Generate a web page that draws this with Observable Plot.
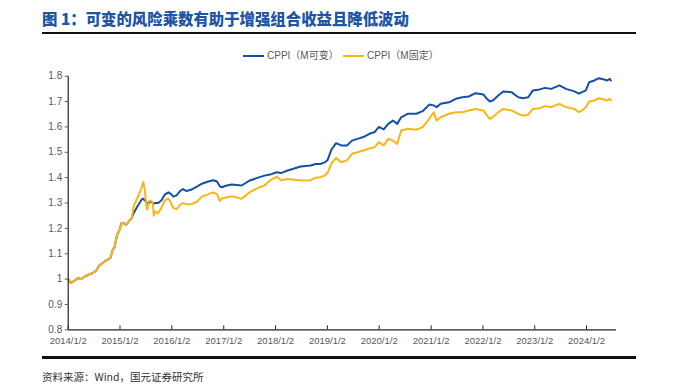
<!DOCTYPE html>
<html>
<head>
<meta charset="utf-8">
<script src="https://cdn.jsdelivr.net/npm/d3@7"></script>
<script src="https://cdn.jsdelivr.net/npm/@observablehq/plot@0.6"></script>
<style>
  html, body { margin: 0; padding: 0; background: #fff; }
  #wrap { position: relative; width: 700px; height: 390px; overflow: hidden; background: #fff;
          font-family: "Liberation Sans", Arial, "Noto Sans CJK SC", sans-serif; }
  .title { position: absolute; left: 42px; top: 7px; font-family: "Noto Sans CJK SC", sans-serif;
           font-weight: 900; font-size: 15.4px; line-height: 22px; color: #2055a4; white-space: nowrap; }
  .hr { position: absolute; left: 42px; width: 594px; background: #111; }
  .legend { position: absolute; top: 49px; left: 0; height: 14px; font-size: 10px; color: #595959; }
  .sw { position: absolute; top: 6px; width: 21px; height: 2px; }
  .lt { position: absolute; top: 0; white-space: nowrap; line-height: 14px; }
  #chart { position: absolute; left: 0; top: 62px; }
  .source { position: absolute; left: 42px; top: 369px; font-size: 10.5px; line-height: 16px; color: #333;
            font-family: "Noto Sans CJK SC", sans-serif; white-space: nowrap; }
</style>
</head>
<body>
<div id="wrap">
  <div class="title">图 1：可变的风险乘数有助于增强组合收益且降低波动</div>
  <div class="hr" style="top:32px;height:2px;"></div>
  <div class="legend">
    <div class="sw" id="sw1" style="left:243px;"></div><div class="lt" id="lt1" style="left:267px;"></div>
    <div class="sw" id="sw2" style="left:343px;"></div><div class="lt" id="lt2" style="left:367px;"></div>
  </div>
  <div id="chart"></div>
  <div class="hr" style="top:356px;height:2.5px;"></div>
  <div class="source">资料来源：Wind，国元证券研究所</div>
</div>
<script>
// ---- data ----
const seriesNames = ["CPPI（M可变）", "CPPI（M固定）"];
const seriesColors = ["#1650a6", "#fbb614"];

const dates = [
  "2014-01-02","2014-01-20","2014-02-20","2014-03-10","2014-04-01","2014-05-05","2014-06-20","2014-07-15",
  "2014-08-08","2014-09-25","2014-10-27","2014-11-10","2014-11-25","2014-12-12","2014-12-29","2015-01-12",
  "2015-01-30","2015-02-13","2015-03-10","2015-03-25","2015-04-08","2015-05-05","2015-06-03","2015-06-15",
  "2015-06-25","2015-07-06","2015-07-13","2015-07-24","2015-08-07","2015-08-21","2015-08-28","2015-09-09",
  "2015-09-28","2015-10-20","2015-11-13","2015-12-09","2015-12-28","2016-01-12","2016-02-05","2016-02-29",
  "2016-03-20","2016-04-15","2016-05-15","2016-06-27","2016-08-01","2016-09-15","2016-10-19","2016-11-15",
  "2016-12-05","2016-12-20","2017-01-15","2017-02-28","2017-05-08","2017-07-05","2017-09-01","2017-10-16",
  "2017-11-24","2018-01-10","2018-02-09","2018-03-28","2018-06-28","2018-09-06","2018-10-12","2018-11-14",
  "2018-12-14","2019-01-04","2019-01-30","2019-03-04","2019-04-10","2019-05-20","2019-06-25","2019-08-01",
  "2019-09-12","2019-10-25","2019-12-02","2019-12-31","2020-02-03","2020-03-06","2020-04-08","2020-05-08",
  "2020-06-05","2020-07-23","2020-09-20","2020-11-03","2020-12-20","2021-01-20","2021-02-10","2021-03-10",
  "2021-05-08","2021-06-25","2021-08-10","2021-09-24","2021-11-10","2022-01-05","2022-01-30","2022-02-20",
  "2022-03-15","2022-04-20","2022-05-25","2022-07-22","2022-09-08","2022-10-12","2022-11-17","2022-12-20",
  "2023-02-06","2023-03-15","2023-04-28","2023-06-25","2023-08-10","2023-10-08","2023-11-10","2023-12-01",
  "2023-12-28","2024-01-20","2024-02-25","2024-03-28","2024-05-05","2024-05-27","2024-06-13","2024-06-21"
];

const cppiVariable = [
  1.000,0.985,0.995,1.004,1.000,1.012,1.023,1.031,
  1.053,1.073,1.084,1.113,1.127,1.173,1.193,1.220,
  1.220,1.213,1.231,1.240,1.260,1.287,1.313,1.317,
  1.310,1.305,1.300,1.300,1.305,1.300,1.298,1.300,
  1.300,1.310,1.333,1.342,1.335,1.325,1.330,1.347,
  1.355,1.347,1.352,1.365,1.376,1.385,1.390,1.385,
  1.366,1.362,1.368,1.373,1.369,1.389,1.400,1.408,
  1.412,1.421,1.418,1.428,1.444,1.448,1.454,1.454,
  1.460,1.470,1.510,1.536,1.527,1.527,1.546,1.553,
  1.560,1.573,1.580,1.600,1.590,1.612,1.625,1.612,
  1.638,1.652,1.652,1.662,1.688,1.685,1.678,1.691,
  1.697,1.711,1.717,1.720,1.733,1.728,1.711,1.700,
  1.705,1.724,1.740,1.737,1.717,1.713,1.717,1.744,
  1.748,1.754,1.750,1.764,1.750,1.740,1.731,1.737,
  1.744,1.776,1.783,1.792,1.787,1.783,1.790,1.783
];

const cppiFixed = [
  1.000,0.985,0.995,1.004,1.000,1.012,1.023,1.031,
  1.053,1.073,1.084,1.113,1.127,1.173,1.193,1.220,
  1.220,1.213,1.231,1.240,1.287,1.320,1.360,1.383,
  1.353,1.293,1.273,1.307,1.310,1.300,1.250,1.267,
  1.260,1.280,1.310,1.318,1.300,1.280,1.276,1.293,
  1.300,1.295,1.295,1.305,1.325,1.335,1.342,1.335,
  1.308,1.318,1.322,1.327,1.317,1.343,1.360,1.369,
  1.389,1.404,1.390,1.395,1.389,1.390,1.400,1.402,
  1.408,1.420,1.455,1.478,1.461,1.468,1.494,1.500,
  1.507,1.515,1.520,1.540,1.527,1.553,1.546,1.533,
  1.586,1.593,1.589,1.599,1.632,1.658,1.625,1.638,
  1.652,1.658,1.658,1.665,1.671,1.665,1.645,1.632,
  1.640,1.658,1.671,1.665,1.651,1.645,1.648,1.671,
  1.674,1.682,1.678,1.691,1.678,1.671,1.658,1.665,
  1.678,1.700,1.704,1.713,1.708,1.704,1.711,1.705
];

const xTickLabels = ["2014/1/2","2015/1/2","2016/1/2","2017/1/2","2018/1/2","2019/1/2",
                     "2020/1/2","2021/1/2","2022/1/2","2023/1/2","2024/1/2"];
const yTicks = [0.8, 0.9, 1, 1.1, 1.2, 1.3, 1.4, 1.5, 1.6, 1.7, 1.8];
const xDomain = ["2014-01-02", "2024-07-31"];

// ---- build ----
const parseISO = d3.utcParse("%Y-%m-%d");
const parseTick = d3.utcParse("%Y/%m/%d");
const rows = dates.map((d, i) => ({date: parseISO(d), v: cppiVariable[i], f: cppiFixed[i]}));
const xTicks = xTickLabels.map(parseTick);
const labelOf = new Map(xTicks.map((t, i) => [+t, xTickLabels[i]]));
const x0 = parseISO(xDomain[0]);

// legend
document.getElementById("sw1").style.background = seriesColors[0];
document.getElementById("sw2").style.background = seriesColors[1];
document.getElementById("lt1").textContent = seriesNames[0];
document.getElementById("lt2").textContent = seriesNames[1];

const H = 290, mT = 13.7, mB = 22.7;
const chart = Plot.plot({
  width: 700,
  height: H,
  marginLeft: 67.7,
  marginRight: 84,
  marginTop: mT,
  marginBottom: mB,
  style: {background: "transparent", fontFamily: "'Liberation Sans', Arial, sans-serif", overflow: "visible"},
  x: {type: "utc", domain: xDomain.map(parseISO)},
  y: {domain: [0.8, 1.8]},
  marks: [
    Plot.axisY({ticks: yTicks, tickFormat: d => String(d), tickSize: 3, tickPadding: 3,
                fontSize: 10, color: "#595959"}),
    Plot.axisX({ticks: xTicks, tickFormat: d => labelOf.get(+d), tickSize: 0, tickPadding: 7,
                fontSize: 9.5, color: "#595959"}),
    Plot.ruleX(xTicks, {stroke: "#222", strokeWidth: 1, insetTop: H - mT - mB - 4}),
    Plot.lineY(rows, {x: "date", y: "v", stroke: seriesColors[0], strokeWidth: 2}),
    Plot.lineY(rows, {x: "date", y: "f", stroke: seriesColors[1], strokeWidth: 2}),
    Plot.ruleY([0.8], {stroke: "#222", strokeWidth: 1.2}),
    Plot.ruleX([x0], {stroke: "#222", strokeWidth: 1.2})
  ]
});
document.getElementById("chart").appendChild(chart);
</script>
</body>
</html>
